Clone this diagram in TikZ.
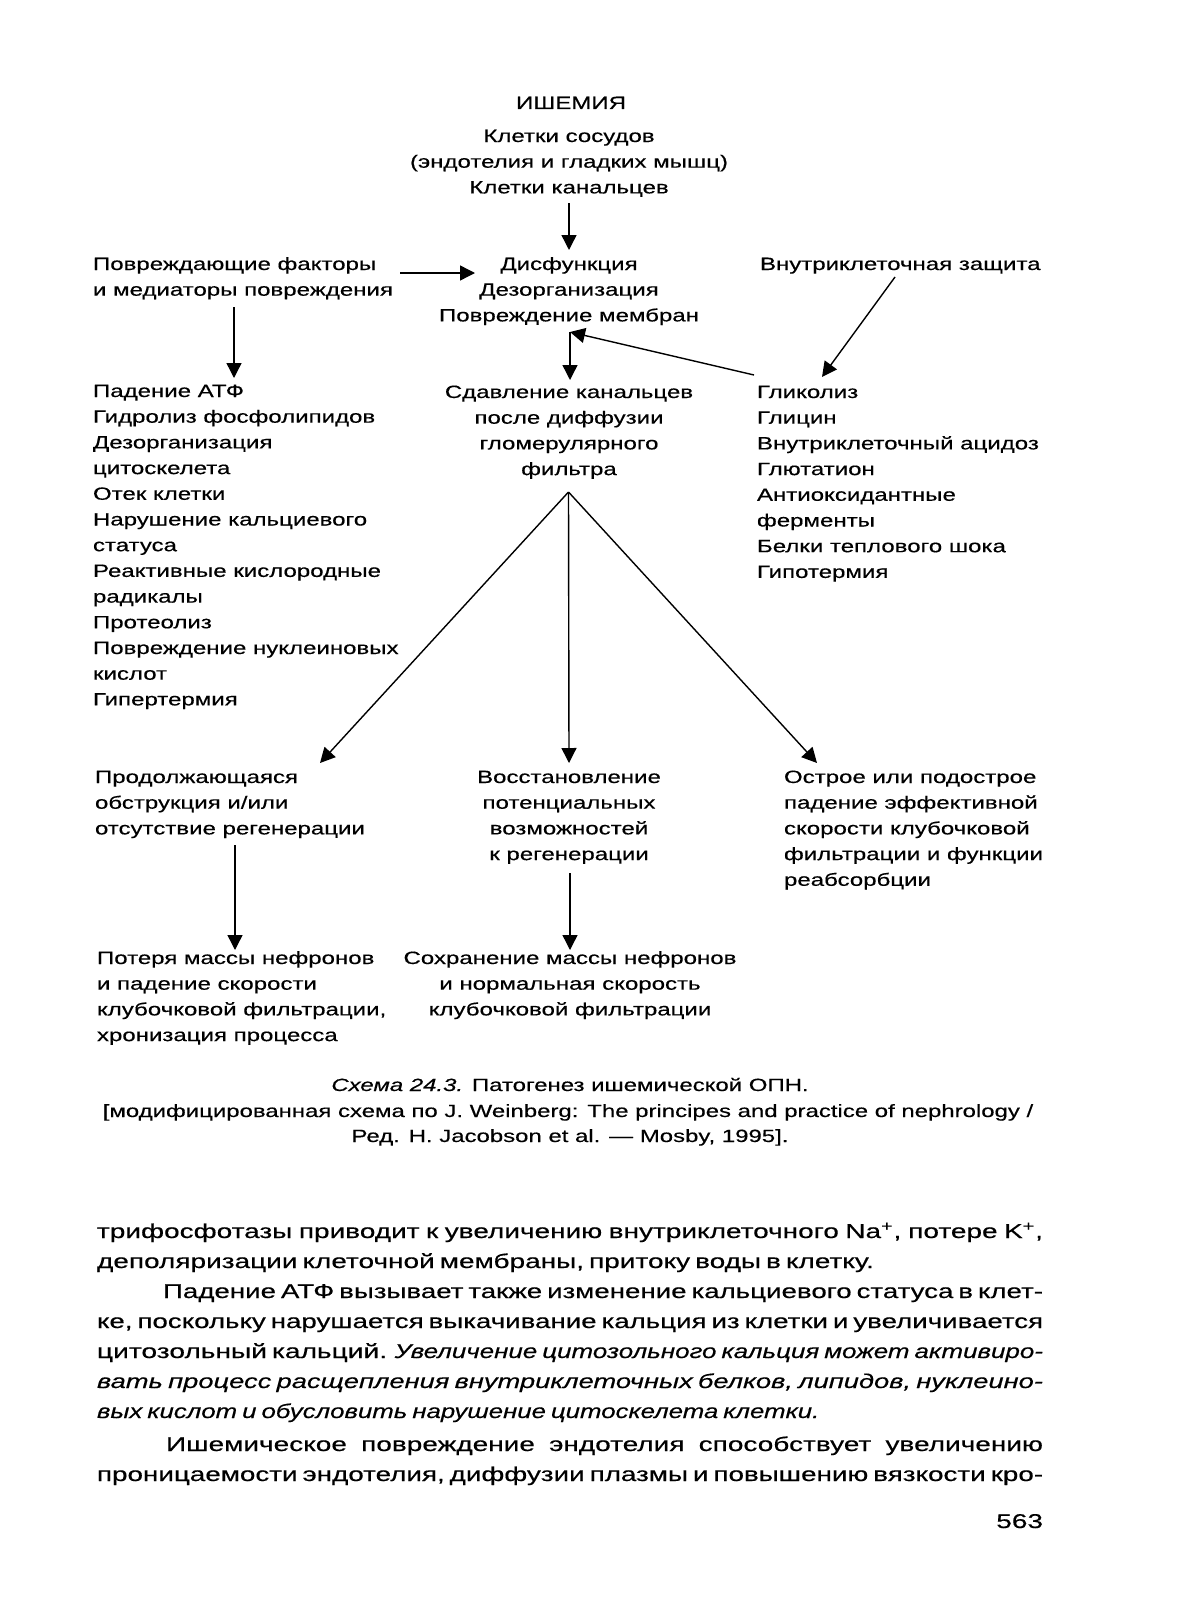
\documentclass[tikz,border=0pt]{standalone}
\usepackage{fontspec}
\usepackage{graphicx}
\setmainfont[FakeStretch=1.35,FakeBold=0.4]{Liberation Sans}
\newfontfamily\bodyfam[UprightFeatures={FakeStretch=1.40,FakeBold=0.4},ItalicFeatures={FakeStretch=1.29,FakeBold=0.4}]{Liberation Sans}
\usetikzlibrary{arrows.meta}
\newcommand\dfont{\fontsize{8.9pt}{12.85pt}\selectfont}
\newcommand\cfont{\fontsize{8.87pt}{12.75pt}\selectfont}
\newcommand\bfont{\bodyfam\fontsize{10pt}{15pt}\selectfont\spaceskip=0.25em plus 3em minus 0.1em\relax}
\newcommand\Lcol[1]{\begin{tabular}[t]{@{}l@{}}#1\end{tabular}}
\newcommand\Ccol[1]{\begin{tabular}[t]{@{}c@{}}#1\end{tabular}}
\newcommand\jfit[2]{\resizebox{#1}{\height}{#2}}
\begin{document}
\begin{tikzpicture}[x=0.5pt,y={(0pt,-0.5pt)},
  txt/.style={inner sep=0pt,outer sep=0pt,font=\dfont},
  lft/.style={txt,anchor=base west},
  ctr/.style={txt,anchor=base},
  captxt/.style={inner sep=0pt,outer sep=0pt,font=\cfont,anchor=base},
  arr/.style={line width=0.7pt,-{Triangle[length=7.5pt,width=7.5pt]}},
  body/.style={inner sep=0pt,outer sep=0pt,font=\bfont,anchor=base west},
]
\fill[white] (0,0) rectangle (1177,1600);
\useasboundingbox (0,0) rectangle (1177,1600);

% ---------- diagram text ----------
\node[ctr] (title) at (571,109) {ИШЕМИЯ};
\node[ctr] (cells) at (569,142) {\Ccol{Клетки сосудов\\(эндотелия и гладких мышц)\\Клетки канальцев}};
\node[ctr] (dys) at (569,270) {\Ccol{Дисфункция\\Дезорганизация\\Повреждение мембран}};
\node[lft] (factors) at (93,270) {\Lcol{Повреждающие факторы\\и медиаторы повреждения}};
\node[lft] (defense) at (760,270) {Внутриклеточная защита};
\node[lft] (atp) at (93,397) {\Lcol{Падение АТФ\\Гидролиз фосфолипидов\\Дезорганизация\\цитоскелета\\Отек клетки\\Нарушение кальциевого\\статуса\\Реактивные кислородные\\радикалы\\Протеолиз\\Повреждение нуклеиновых\\кислот\\Гипертермия}};
\node[ctr] (compr) at (569,398) {\Ccol{Сдавление канальцев\\после диффузии\\гломерулярного\\фильтра}};
\node[lft] (glyc) at (757,398) {\Lcol{Гликолиз\\Глицин\\Внутриклеточный ацидоз\\Глютатион\\Антиоксидантные\\ферменты\\Белки теплового шока\\Гипотермия}};
\node[lft] (cont) at (95,783) {\Lcol{Продолжающаяся\\обструкция и/или\\отсутствие регенерации}};
\node[ctr] (restore) at (569,783) {\Ccol{Восстановление\\потенциальных\\возможностей\\к регенерации}};
\node[lft] (acute) at (784,783) {\Lcol{Острое или подострое\\падение эффективной\\скорости клубочковой\\фильтрации и функции\\реабсорбции}};
\node[lft] (loss) at (97,964) {\Lcol{Потеря массы нефронов\\и падение скорости\\клубочковой фильтрации,\\хронизация процесса}};
\node[ctr] (keep) at (570,964) {\Ccol{Сохранение массы нефронов\\и нормальная скорость\\клубочковой фильтрации}};

% ---------- connector end points ----------
\coordinate (c1s) at (569,203);
\coordinate (c1e) at (569,250);
\coordinate (c2s) at (400,273);
\coordinate (c2e) at (475,273);
\coordinate (c3s) at (234,307);
\coordinate (c3e) at (234,378);
\coordinate (c4s) at (895,277);
\coordinate (c4e) at (822,377);
\coordinate (c5s) at (754,375);
\coordinate (jn)  at (570,332);
\coordinate (c6e) at (570,380);
\coordinate (apex) at (568.5,492);
\coordinate (t1) at (320,763);
\coordinate (t2) at (569,763);
\coordinate (t3) at (817,763);
\coordinate (c8s) at (235,845);
\coordinate (c8e) at (235,950);
\coordinate (c9s) at (570,873);
\coordinate (c9e) at (570,950);

% ---------- connectors ----------
\draw[arr] (c1s) -- (c1e);
\draw[arr] (c2s) -- (c2e);
\draw[arr] (c3s) -- (c3e);
\draw[arr] (c4s) -- (c4e);
\draw[arr] (c5s) -- (jn);
\draw[arr] (jn) -- (c6e);
\draw[arr] (apex) -- (t1);
\draw[arr] (apex) -- (t2);
\draw[arr] (apex) -- (t3);
\draw[arr] (c8s) -- (c8e);
\draw[arr] (c9s) -- (c9e);

% ---------- caption ----------
\node[captxt] (cap1) at (570,1091) {\textit{Схема 24.3.} Патогенез ишемической ОПН.};
\node[captxt] (cap2) at (568,1117) {[модифицированная схема по J. Weinberg: The principes and practice of nephrology /};
\node[captxt] (cap3) at (570,1142) {Ред. H. Jacobson et al. — Mosby, 1995].};

% ---------- body text ----------
\node[body] (b1) at (97,1238) {\makebox[473pt][s]{трифосфотазы приводит к увеличению внутриклеточного Na\textsuperscript{+}, потере K\textsuperscript{+},}};
\node[body] (b2) at (97,1268) {деполяризации клеточной мембраны, притоку воды в клетку.};
\node[body] (b3) at (163,1298) {\jfit{440pt}{Падение АТФ вызывает также изменение кальциевого статуса в клет-}};
\node[body] (b4) at (97,1328) {\jfit{473pt}{ке, поскольку нарушается выкачивание кальция из клетки и увеличивается}};
\node[body] (b5) at (97,1358) {\jfit{473pt}{цитозольный кальций. \textit{Увеличение цитозольного кальция может активиро-}}};
\node[body] (b6) at (97,1388) {\jfit{473pt}{\textit{вать процесс расщепления внутриклеточных белков, липидов, нуклеино-}}};
\node[body] (b7) at (97,1418) {\textit{вых кислот и обусловить нарушение цитоскелета клетки.}};
\node[body] (b8) at (166,1451) {\makebox[438.5pt][s]{Ишемическое повреждение эндотелия способствует увеличению}};
\node[body] (b9) at (97,1481) {\jfit{473pt}{проницаемости эндотелия, диффузии плазмы и повышению вязкости кро-}};
\node[body,anchor=base east] (page) at (1043,1528) {563};
\end{tikzpicture}
\end{document}
